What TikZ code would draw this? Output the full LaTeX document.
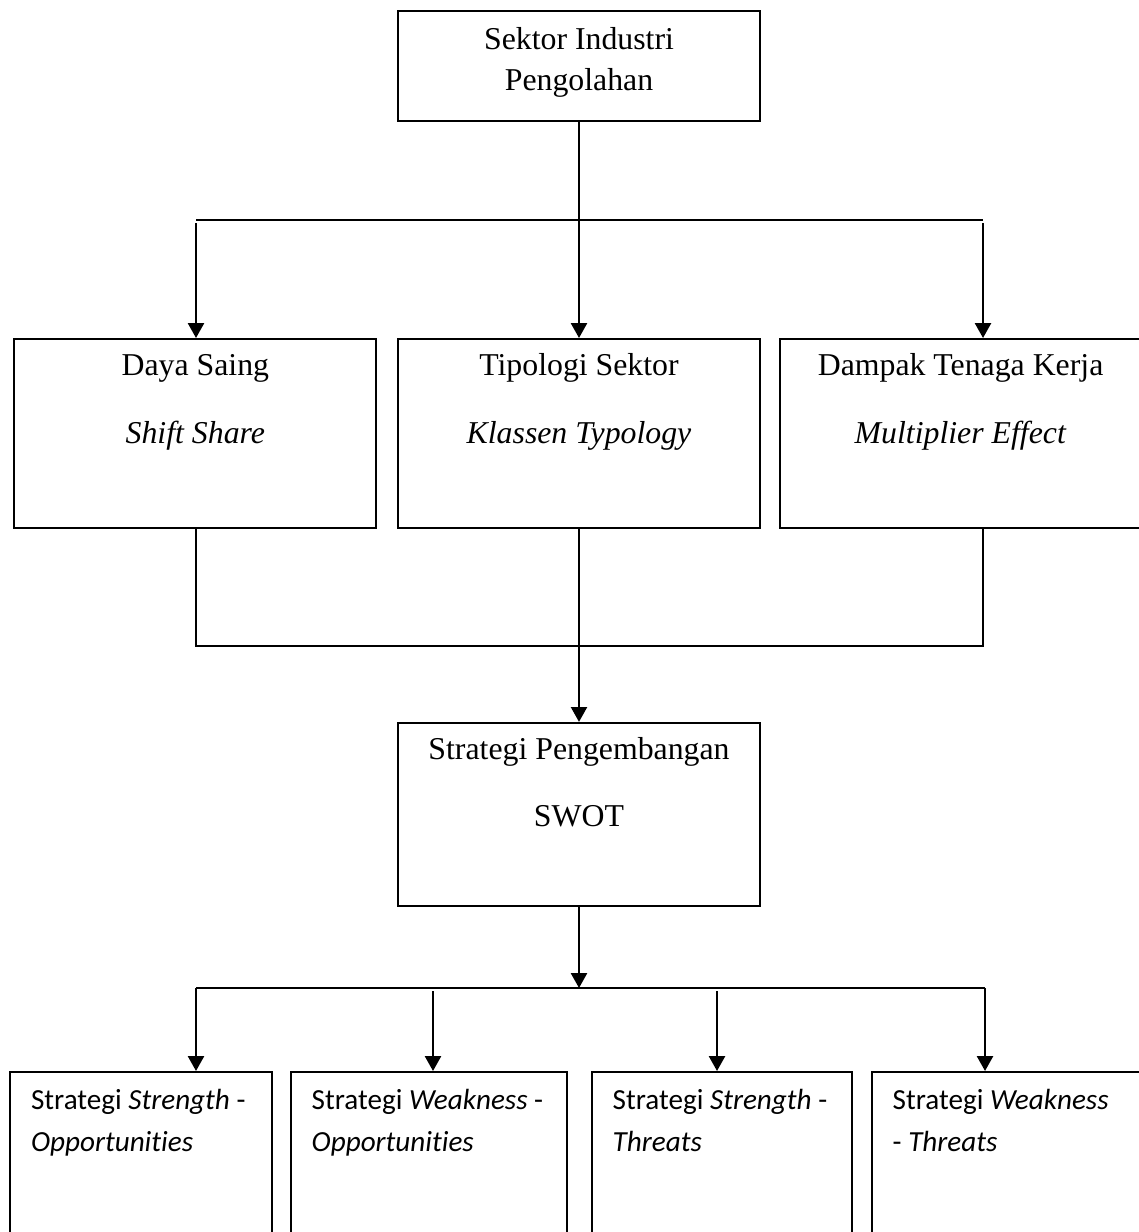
\documentclass[tikz,border=0pt]{standalone}
\usepackage{fontspec}
\setmainfont{Liberation Serif}
\newfontfamily\calibri[Ligatures=NoCommon]{Carlito}
\usetikzlibrary{arrows.meta, positioning}

\begin{document}
\begin{tikzpicture}[x=0.3774pt, y=-0.3774pt,
  every node/.style={font=\fontsize{12pt}{14pt}\selectfont},
  box/.style={draw, line width=0.8pt, minimum width=136.6pt, inner sep=0pt},
  txt/.style={anchor=base, inner sep=0pt},
  stxt/.style={anchor=base west, inner sep=0pt, font=\calibri\fontsize{11pt}{13pt}\selectfont},
  arr/.style={-{Triangle[width=6pt,length=5.6pt]}, line width=0.9pt},
  conn/.style={line width=0.8pt}]
  \useasboundingbox (0,0) rectangle (1138,1232);

  % Sektor Industri Pengolahan
  \node[box, minimum height=41.5pt] (top) at (579,65.7) {};
  \node[txt] (top1) at ([yshift=-15pt]top.north) {Sektor Industri};
  \node[txt] (top2) at ([yshift=-30.7pt]top.north) {Pengolahan};

  % Analysis boxes
  \node[box, minimum height=71.2pt] (tp) at (579,433.4) {};
  \node[box, minimum height=71.2pt, left=7.4pt of tp] (ds) {};
  \node[box, minimum height=71.2pt, right=6.6pt of tp] (dt) {};
  \node[txt] (ds1) at ([yshift=-14.2pt]ds.north) {Daya Saing};
  \node[txt] (ds2) at ([yshift=-40pt]ds.north) {\textit{Shift Share}};
  \node[txt] (tp1) at ([yshift=-14.2pt]tp.north) {Tipologi Sektor};
  \node[txt] (tp2) at ([yshift=-40pt]tp.north) {\textit{Klassen Typology}};
  \node[txt] (dt1) at ([yshift=-14.2pt]dt.north) {Dampak Tenaga Kerja};
  \node[txt] (dt2) at ([yshift=-40pt]dt.north) {\textit{Multiplier Effect}};

  % SWOT box
  \node[box, minimum height=69.1pt] (swot) at (579,814.5) {};
  \node[txt] (swot1) at ([yshift=-14.2pt]swot.north) {Strategi Pengembangan};
  \node[txt] (swot2) at ([yshift=-39.4pt]swot.north) {SWOT};

  % Strategy boxes
  \node[box, anchor=north west, minimum width=98.7pt, minimum height=80pt] (so) at (9.3,1071) {};
  \node[box, anchor=north west, minimum width=104.2pt, minimum height=80pt] (wo) at (290,1071) {};
  \node[box, anchor=north west, minimum width=98.1pt, minimum height=80pt] (st) at (591,1071) {};
  \node[box, anchor=north west, minimum width=104.2pt, minimum height=80pt] (wt) at (871,1071) {};
  \node[stxt] (so1) at ([xshift=8pt, yshift=-14.7pt]so.north west) {Strategi \textit{Strength} -};
  \node[stxt] (so2) at ([xshift=8pt, yshift=-30.5pt]so.north west) {\textit{Opportunities}};
  \node[stxt] (wo1) at ([xshift=8pt, yshift=-14.7pt]wo.north west) {Strategi \textit{Weakness} -};
  \node[stxt] (wo2) at ([xshift=8pt, yshift=-30.5pt]wo.north west) {\textit{Opportunities}};
  \node[stxt] (st1) at ([xshift=8pt, yshift=-14.7pt]st.north west) {Strategi \textit{Strength} -};
  \node[stxt] (st2) at ([xshift=8pt, yshift=-30.5pt]st.north west) {\textit{Threats}};
  \node[stxt] (wt1) at ([xshift=8pt, yshift=-14.7pt]wt.north west) {Strategi \textit{Weakness}};
  \node[stxt] (wt2) at ([xshift=8pt, yshift=-30.5pt]wt.north west) {- \textit{Threats}};

  % Branch to analysis
  \coordinate (b1l) at (196,220);
  \coordinate (b1r) at (983,220);
  \draw[arr] (top.south) -- (tp.north);
  \draw[conn] (b1l) -- (b1r);
  \draw[arr] ([yshift=-1.3pt]b1l) -- (b1l |- ds.north);
  \draw[arr] ([yshift=-1.3pt]b1r) -- (b1r |- dt.north);

  % Join to SWOT
  \coordinate (j1l) at (196,646);
  \coordinate (j1r) at (983,646);
  \draw[conn] (j1l |- ds.south) -- (j1l) -- (j1r) -- (j1r |- dt.south);
  \draw[arr] (tp.south) -- (swot.north);

  % Branch to strategies
  \coordinate (b2c) at (579,988);
  \coordinate (b2l) at (196,988);
  \coordinate (b2r) at (985,988);
  \coordinate (b2a) at (433,988);
  \coordinate (b2b) at (717,988);
  \draw[arr] (swot.south) -- (b2c);
  \draw[conn] (b2l) -- (b2r);
  \draw[arr] (b2l) -- (b2l |- so.north);
  \draw[arr] ([yshift=-1.3pt]b2a) -- (b2a |- wo.north);
  \draw[arr] ([yshift=-1.3pt]b2b) -- (b2b |- st.north);
  \draw[arr] (b2r) -- (b2r |- wt.north);
\end{tikzpicture}
\end{document}
